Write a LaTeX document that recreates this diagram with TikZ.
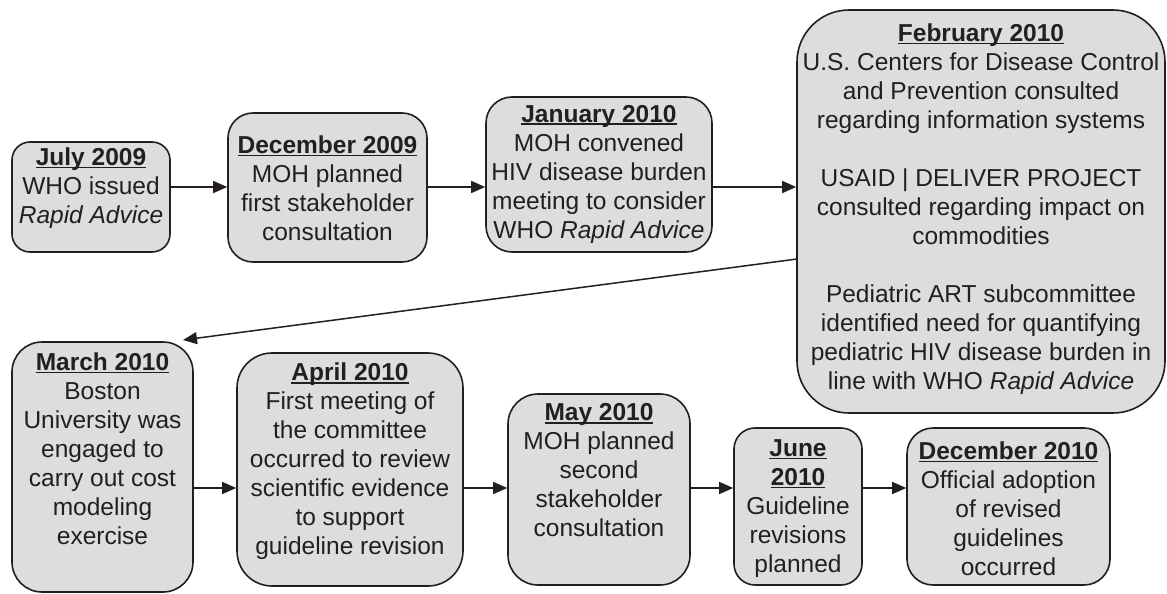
\documentclass[tikz,border=0pt]{standalone}
\usepackage{fontspec}
\setmainfont{Liberation Sans}
\usetikzlibrary{arrows.meta,calc}
\definecolor{ink}{HTML}{231F20}
\definecolor{boxfill}{HTML}{DCDDDE}
\newcommand{\ulhead}[1]{\setbox0=\hbox{\bfseries #1}\rlap{\rule[-3pt]{\wd0}{1.6pt}}\box0}
\tikzset{
  box/.style={draw=ink, fill=boxfill, line width=1.6pt, inner sep=0pt},
  txt/.style={align=center, text=ink, inner sep=0pt, font=\fontsize{24.5}{29}\selectfont},
  arr/.style={draw=ink, line width=1.5pt, -{Triangle[length=14pt,width=12pt]}}
}
\begin{document}
\begin{tikzpicture}[x=1pt,y=-1pt]
\useasboundingbox (0,0) rectangle (1167,594);
% boxes
\node[box, rounded corners=18pt, minimum width=158pt, minimum height=110pt] (jul) at (91,197) {};
\node[box, rounded corners=25pt, minimum width=199pt, minimum height=149pt] (dec) at (327.5,187.5) {};
\node[box, rounded corners=26pt, minimum width=226pt, minimum height=155pt] (jan) at (599,174.5) {};
\node[box, rounded corners=52pt, minimum width=368pt, minimum height=403pt] (feb) at (981,211.5) {};
\node[box, rounded corners=30pt, minimum width=181pt, minimum height=250pt] (mar) at (102.5,467) {};
\node[box, rounded corners=35pt, minimum width=226pt, minimum height=233pt] (apr) at (350,469.5) {};
\node[box, rounded corners=30pt, minimum width=182pt, minimum height=191pt] (may) at (599,489.5) {};
\node[box, rounded corners=21pt, minimum width=128pt, minimum height=157pt] (jun) at (798,506.5) {};
\node[box, rounded corners=26pt, minimum width=203pt, minimum height=157pt] (dcb) at (1008.5,506.5) {};
% texts
\node[txt] (julT) at (91,188) {\ulhead{July 2009}\\WHO issued\\\itshape Rapid Advice};
\node[txt] (decT) at (327.5,188) {\ulhead{December 2009}\\MOH planned\\first stakeholder\\consultation};
\node[txt] (janT) at (599,174) {\ulhead{January 2010}\\MOH convened\\HIV disease burden\\meeting to consider\\WHO \textit{Rapid Advice}};
\node[txt] (febT) at (981,209) {\ulhead{February 2010}\\U.S. Centers for Disease Control\\and Prevention consulted\\regarding information systems\\[29pt]USAID | DELIVER PROJECT\\consulted regarding impact on\\commodities\\[29pt]Pediatric ART subcommittee\\identified need for quantifying\\pediatric HIV disease burden in\\line with WHO \textit{Rapid Advice}};
\node[txt] (marT) at (102.5,448.5) {\ulhead{March 2010}\\Boston\\University was\\engaged to\\carry out cost\\modeling\\exercise};
\node[txt] (aprT) at (350,461.5) {\ulhead{April 2010}\\First meeting of\\the committee\\occurred to review\\scientific evidence\\to support\\guideline revision};
\node[txt] (mayT) at (599,470.5) {\ulhead{May 2010}\\MOH planned\\second\\stakeholder\\consultation};
\node[txt] (junT) at (798,508.5) {\ulhead{June}\\\ulhead{2010}\\Guideline\\revisions\\planned};
\node[txt] (dcbT) at (1008.5,508.5) {\ulhead{December 2010}\\Official adoption\\of revised\\guidelines\\occurred};
% connectors
\coordinate (r1) at (0,187);
\coordinate (r2) at (0,488);
\coordinate (fstart) at (797,259);
\coordinate (mtip) at (183,340);
\draw[arr] (jul.east |- r1) -- (dec.west |- r1);
\draw[arr] (dec.east |- r1) -- (jan.west |- r1);
\draw[arr] (jan.east |- r1) -- (feb.west |- r1);
\draw[arr] (fstart) -- (mtip);
\draw[arr] (mar.east |- r2) -- (apr.west |- r2);
\draw[arr] (apr.east |- r2) -- (may.west |- r2);
\draw[arr] (may.east |- r2) -- (jun.west |- r2);
\draw[arr] (jun.east |- r2) -- (dcb.west |- r2);
\end{tikzpicture}
\end{document}
